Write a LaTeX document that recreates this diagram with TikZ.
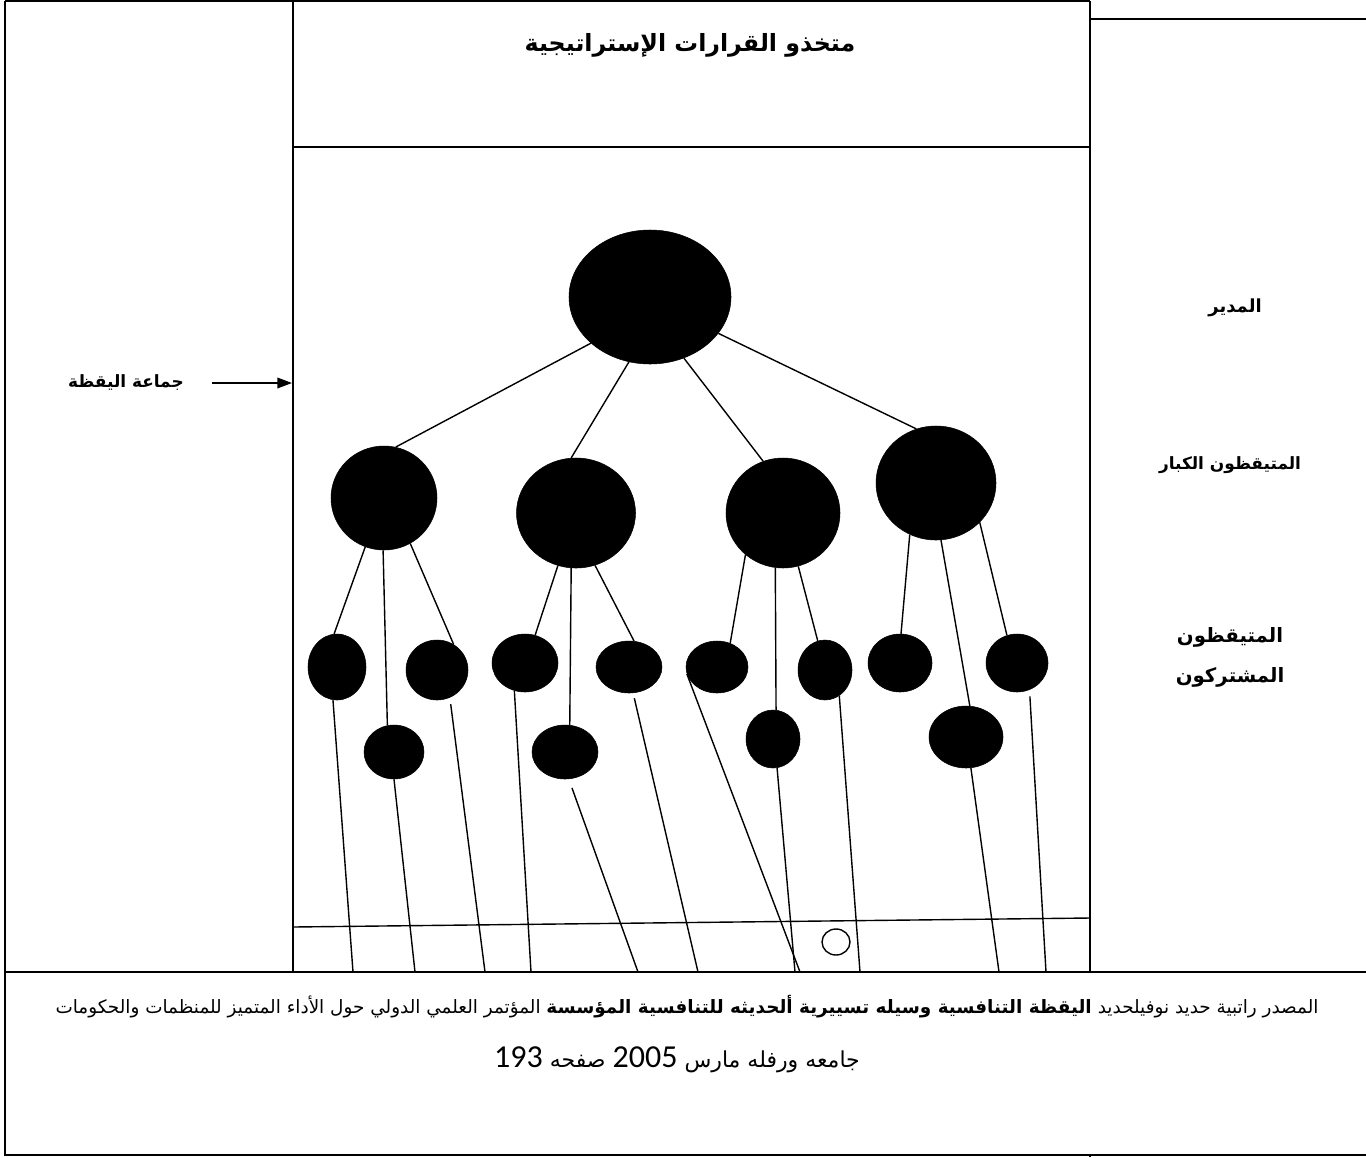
\documentclass[tikz,border=0pt]{standalone}
\usepackage{fontspec}
\usetikzlibrary{shapes.geometric,arrows.meta}
\newfontfamily\arabicfont[Script=Arabic]{DejaVu Sans}
\newfontfamily\carl{Carlito}
\TeXXeTstate=1
\begin{document}
\begin{tikzpicture}[x=0.75pt,y=-0.75pt,
  frame/.style={line width=1.2pt},
  link/.style={line width=1.05pt},
  blob/.style 2 args={ellipse, fill=black, draw=black, inner sep=0pt,
      minimum width=#1*1.5pt, minimum height=#2*1.5pt},
  lbl/.style={font=\arabicfont\bfseries, inner sep=0pt, align=center}
]
\useasboundingbox (0,0) rectangle (1366,1157);
\fill[white] (0,0) rectangle (1366,1157);

% frames
\draw[frame] (5,1) -- (1090,1);
\draw[frame] (5,1) -- (5,1155) -- (1366,1155);
\draw[frame] (5,972) -- (1366,972);
\draw[frame] (293,1) -- (293,972);
\draw[frame] (1090,1) -- (1090,972);
\draw[frame] (1090,1155) -- (1090,1157);
\draw[frame] (293,147) -- (1090,147);
\draw[frame] (1090,19) -- (1366,19);
\draw[link] (293,927) -- (1090,918);
\draw[link] (836,942) ellipse [x radius=10.5pt, y radius=9.75pt];

% labels
\node[lbl, font=\arabicfont\bfseries\fontsize{17.8}{21}\selectfont] (title) at (690,45) {\beginR متخذو القرارات الإستراتيجية\endR};
\node[lbl, font=\arabicfont\bfseries\fontsize{13.5}{16}\selectfont] (mgr) at (1235,308) {\beginR المدير\endR};
\node[lbl, font=\arabicfont\bfseries\fontsize{12.7}{15}\selectfont] (big) at (1230,465) {\beginR المتيقظون الكبار\endR};
\node[lbl, font=\arabicfont\bfseries\fontsize{14.8}{30}\selectfont] (part) at (1230,657) {\beginR المتيقظون\endR\\\beginR المشتركون\endR};
\node[lbl, font=\arabicfont\bfseries\fontsize{12.7}{15}\selectfont] (grp) at (126,383) {\beginR جماعة اليقظة\endR};
\coordinate (arrS) at (212,383);
\coordinate (arrE) at (292,383);
\draw[link,-{Triangle[length=11pt,width=8pt]}] (arrS) -- (arrE);

\node[inner sep=0pt, font=\arabicfont\fontsize{13.8}{16}\selectfont] (src1) at (687,1007)
 {\beginR المصدر راتبية حديد نوفيلحديد {\bfseries اليقظة التنافسية وسيله تسييرية ألحديثه للتنافسية المؤسسة} المؤتمر العلمي الدولي حول الأداء المتميز للمنظمات والحكومات\endR};
\node[inner sep=0pt, font=\arabicfont\fontsize{16.5}{19}\selectfont] (src2) at (677,1060)
 {\beginR جامعه ورفله مارس \beginL{\carl\fontsize{24}{26}\selectfont 2005}\endL{} صفحه \beginL{\carl\fontsize{24}{26}\selectfont 193}\endL\endR};

% tree nodes
\node[blob={81}{67}] (root) at (650,297) {};
\node[blob={53}{52}] (A) at (384,498) {};
\node[blob={59.5}{55}] (B) at (576,513) {};
\node[blob={57}{55}] (C) at (783,513) {};
\node[blob={60}{57}] (D) at (936,483) {};

\node[blob={29}{33}] (a1) at (337,667) {};
\node[blob={30}{27}] (a2) at (394,752) {};
\node[blob={31}{30}] (a3) at (437,670) {};
\node[blob={33}{29}] (b1) at (525,663) {};
\node[blob={33}{27}] (b2) at (565,752) {};
\node[blob={33}{26}] (b3) at (629,667) {};
\node[blob={31}{26}] (c1) at (717,667) {};
\node[blob={27}{29}] (c2) at (773,739) {};
\node[blob={27}{30}] (c3) at (825,670) {};
\node[blob={32}{29}] (d1) at (900,663) {};
\node[blob={37}{31}] (d2) at (966,737) {};
\node[blob={31}{29}] (d3) at (1017,663) {};

% root connectors
\draw[link] (root.218) -- (A.77);
\draw[link] (root.252) -- (B.95);
\draw[link] (root.299) -- (C.111);
\draw[link] (root.332) -- (D.110);

% second level connectors
\draw[link] (A.249) -- (a1.95);
\draw[link] (A.269) -- (a2.104);
\draw[link] (A.300) -- (a3.57);
\draw[link] (B.251) -- (b1.70);
\draw[link] (B.265) -- (b2.80);
\draw[link] (B.290) -- (b3.79);
\draw[link] (C.228) -- (c1.61);
\draw[link] (C.262) -- (c2.84);
\draw[link] (C.286) -- (c3.104);
\draw[link] (D.243) -- (d1.88);
\draw[link] (D.275) -- (d2.83);
\draw[link] (D.318) -- (d3.110);

% bottom ends
\coordinate (e1) at (353,972);
\coordinate (e2) at (415,972);
\coordinate (e3) at (485,972);
\coordinate (e4) at (531,972);
\coordinate (e5) at (638,972);
\coordinate (e6) at (698,972);
\coordinate (e7) at (800,972);
\coordinate (e8) at (795,972);
\coordinate (e9) at (860,972);
\coordinate (e10) at (999,972);
\coordinate (e11) at (1046,972);

\draw[link] (a1.263) -- (e1);
\draw[link] (a2.270) -- (e2);
\draw[link, shorten <=5pt] (a3.295) -- (e3);
\draw[link] (b1.249) -- (e4);
\draw[link, shorten <=7pt] (b2.278) -- (e5);
\draw[link, shorten <=4pt] (b3.279) -- (e6);
\draw[link] (c1.193) -- (e7);
\draw[link] (c2.278) -- (e8);
\draw[link] (c3.299) -- (e9);
\draw[link] (d2.279) -- (e10);
\draw[link, shorten <=5pt] (d3.295) -- (e11);
\end{tikzpicture}
\end{document}
